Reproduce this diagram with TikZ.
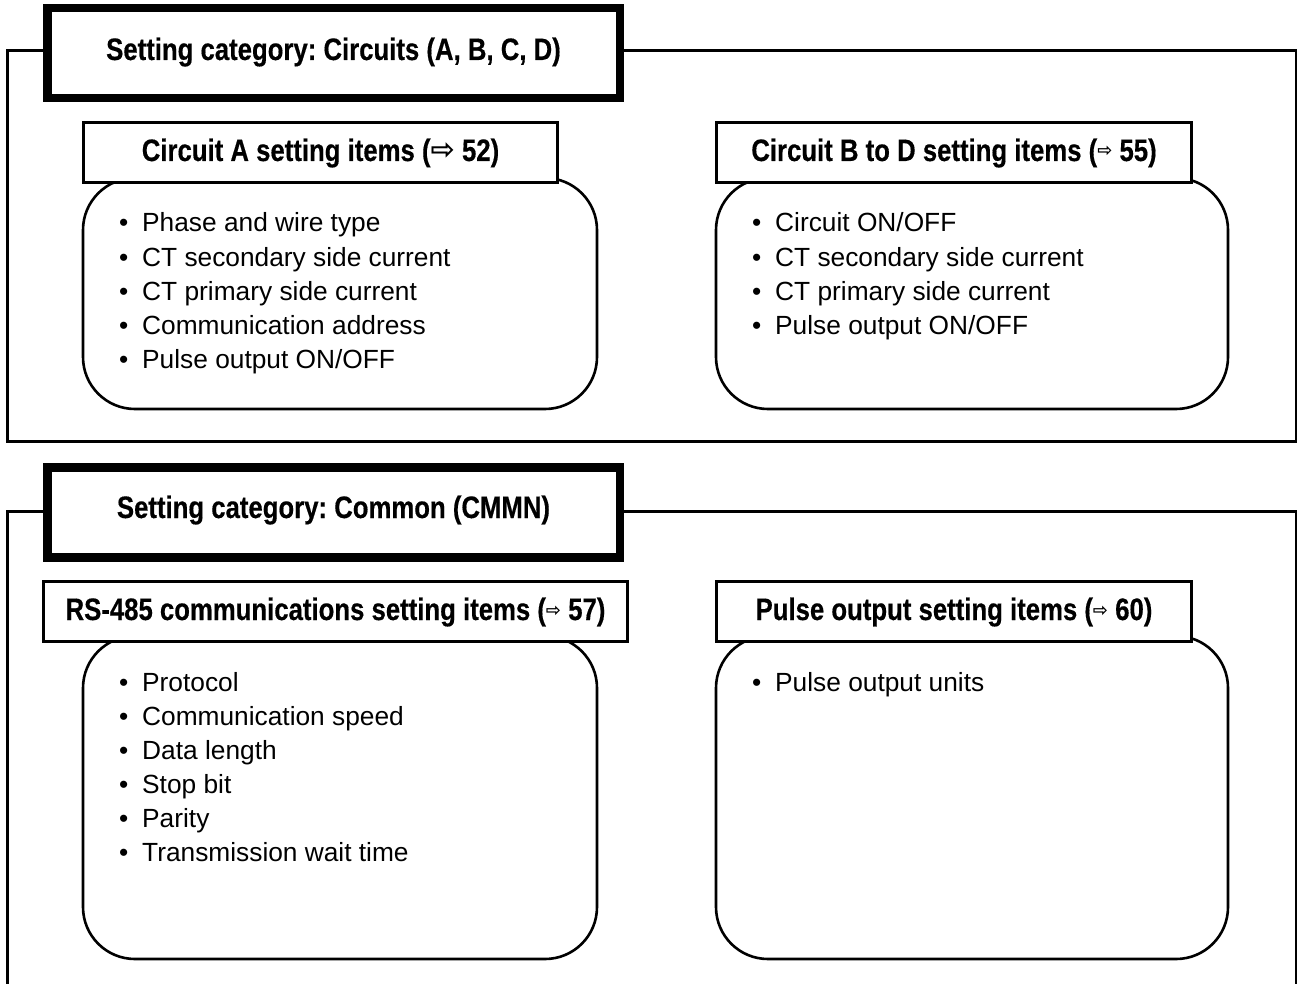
\documentclass[tikz,border=0pt]{standalone}
\usepackage{fontspec}
\setmainfont{Liberation Sans}
\newfontfamily\hdfont{Liberation Sans}[FakeStretch=0.83,FakeBold=0.4]
\newfontfamily\arrowfont{DejaVu Sans}
\newcommand{\bigarr}{\raisebox{1.5pt}{\arrowfont\fontsize{29}{29}\selectfont ⇨}}
\newcommand{\smallarr}{\raisebox{4pt}{\arrowfont\fontsize{18}{18}\selectfont ⇨}}
\begin{document}
\frenchspacing
\begin{tikzpicture}[x=1pt,y=-1pt,
  frameline/.style={line width=3pt,line join=miter},
  catbox/.style={draw,line width=8.5pt,fill=white,minimum width=572.5pt,minimum height=90pt,inner sep=0pt},
  subbox/.style={draw,line width=3pt,fill=white,minimum height=60pt,inner sep=0pt},
  bodybox/.style={draw,line width=2.6pt,rounded corners=52pt,inner sep=0pt},
  cattext/.style={anchor=base,inner sep=0pt,font=\hdfont\bfseries\fontsize{31}{36}\selectfont},
  subtext/.style={anchor=base,inner sep=0pt,font=\hdfont\bfseries\fontsize{31}{36}\selectfont},
  item/.style={anchor=base west,inner sep=0pt,font=\fontsize{26.3}{30}\selectfont}
]
\useasboundingbox (0,0) rectangle (1297,984);

% ---------- Section 1 ----------
\coordinate (f1a) at (7,51);
\coordinate (f1b) at (7,441);
\coordinate (f1c) at (1296,441);
\coordinate (f1d) at (1296,51);

\node[bodybox,minimum width=514pt,minimum height=231pt] (bodyA) at (340,293.5) {};
\node[bodybox,minimum width=512pt,minimum height=231pt] (bodyB) at (972,293.5) {};

\node[catbox] (cat1) at (333.5,53) {};
\draw[frameline] (cat1.west |- f1a) -- (f1a) -- (f1b) -- (f1c) -- (f1d) -- (cat1.east |- f1d);
\node[cattext] (cat1t) at (333.5,60) {Setting category: Circuits (A, B, C, D)};

\node[subbox,minimum width=474pt] (hA) at (320.5,152.5) {};
\node[subtext] (hAt) at (320.5,161) {Circuit A setting items (\bigarr\ 52)};
\node[subbox,minimum width=475pt] (hB) at (954,152.5) {};
\node[subtext] (hBt) at (954,161) {Circuit B to D setting items (\smallarr\ 55)};

\foreach \t [count=\i] in {Phase and wire type, CT secondary side current, CT primary side current, Communication address, Pulse output ON/OFF}
  \node[item] (a\i) at (119,{232+34*(\i-1)}) {\makebox[23pt][l]{•}\t};
\foreach \t [count=\i] in {Circuit ON/OFF, CT secondary side current, CT primary side current, Pulse output ON/OFF}
  \node[item] (b\i) at (752,{232+34*(\i-1)}) {\makebox[23pt][l]{•}\t};

% ---------- Section 2 ----------
\coordinate (f2a) at (7,511);
\coordinate (f2b) at (7,990);
\coordinate (f2c) at (1296,990);
\coordinate (f2d) at (1296,511);

\node[bodybox,minimum width=514pt,minimum height=323pt] (bodyC) at (340,797.5) {};
\node[bodybox,minimum width=512pt,minimum height=323pt] (bodyD) at (972,797.5) {};

\node[catbox] (cat2) at (333.5,512.5) {};
\draw[frameline] (cat2.west |- f2a) -- (f2a) -- (f2b);
\draw[frameline] (cat2.east |- f2d) -- (f2d) -- (f2c);
\node[cattext] (cat2t) at (333.5,518) {Setting category: Common (CMMN)};

\node[subbox,minimum width=584pt] (hC) at (335.5,611.5) {};
\node[subtext] (hCt) at (335.5,620) {RS-485 communications setting items (\smallarr\ 57)};
\node[subbox,minimum width=475pt] (hD) at (954,611.5) {};
\node[subtext] (hDt) at (954,620) {Pulse output setting items (\smallarr\ 60)};

\foreach \t [count=\i] in {Protocol, Communication speed, Data length, Stop bit, Parity, Transmission wait time}
  \node[item] (c\i) at (119,{691+34*(\i-1)}) {\makebox[23pt][l]{•}\t};
\node[item] (d1) at (752,691) {\makebox[23pt][l]{•}Pulse output units};
\end{tikzpicture}
\end{document}
